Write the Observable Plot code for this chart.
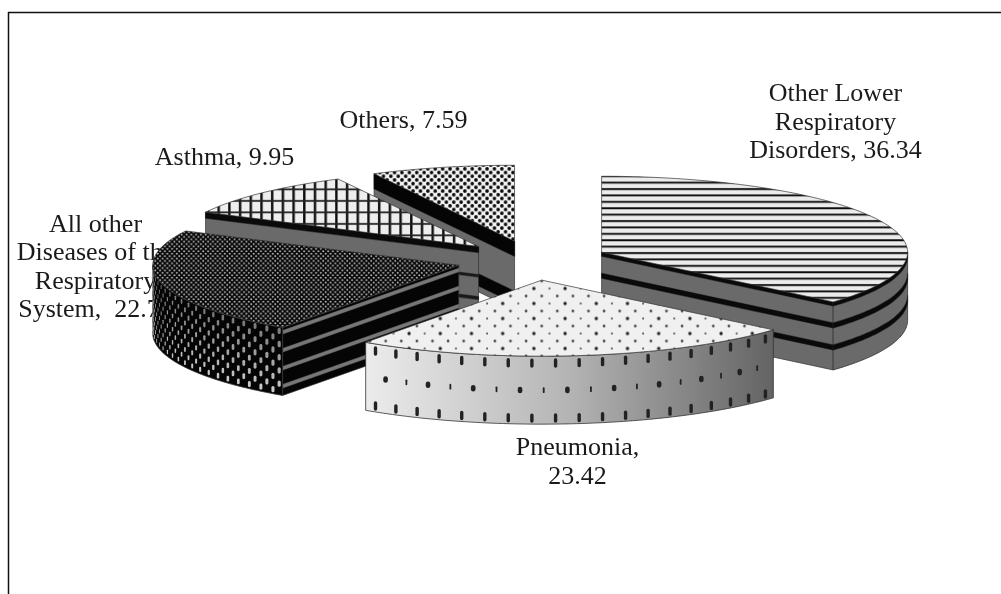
<!DOCTYPE html>
<html><head><meta charset="utf-8">
<script src="https://cdn.jsdelivr.net/npm/d3@7"></script>
<script src="https://cdn.jsdelivr.net/npm/@observablehq/plot@0.6"></script>
<style>html,body{margin:0;padding:0;background:#fff}svg{display:block;filter:blur(.35px)}</style>
</head><body><div id="chart"></div>
<script>
const categories = ["Other Lower\nRespiratory\nDisorders","Pneumonia","All other\nDiseases of the\nRespiratory\nSystem","Asthma","Others"];
const separators = [", ",",\n",",\u00a0 ",", ",", "];
const values = [36.34,23.42,22.70,9.95,7.59];
const labelX = [835,577,95,224,403];
const labelY = [120,460,265,155,118];

// pie geometry
const cx=532, cy=260, rx=306, ry=76, explodeX=76, explodeY=19.8, depth=68;
const rad=d=>d*Math.PI/180;
let acc=0;
const slices = values.map((v,i)=>{
  const a0=acc*3.6; acc+=v; const a1=acc*3.6; const m=rad((a0+a1)/2);
  return {i,a0,a1,ax:cx+explodeX*Math.sin(m),ay:cy-explodeY*Math.cos(m)};
});
const pt=(s,a,d=0)=>[s.ax+rx*Math.sin(rad(a)),s.ay-ry*Math.cos(rad(a))+d];
const arc=(s,a,b,d=0)=>{const n=Math.max(2,Math.ceil(Math.abs(b-a)));return d3.range(n+1).map(k=>pt(s,a+(b-a)*k/n,d));};
const X=d=>d[0],Y=d=>d[1];
const poly=(p,o)=>Plot.line([...p,p[0]],{x:X,y:Y,...o});
const edge="#333";

const defs=()=>{const g=d3.create("svg:defs");g.html(`
<pattern id="pLines" patternUnits="userSpaceOnUse" width="8" height="6.4"><rect width="8" height="6.4" fill="#ececec"/><rect y="2" width="8" height="1.9" fill="#0c0c0c"/></pattern>
<pattern id="pSpots" patternUnits="userSpaceOnUse" width="31.2" height="15"><rect width="31.2" height="15" fill="#f0f0f0"/><circle cx="3" cy="3" r="1.7" fill="#222"/><circle cx="18.6" cy="3" r="1" fill="#444"/><circle cx="10.8" cy="10.5" r="1.3" fill="#333"/><circle cx="26.4" cy="10.5" r="1.3" fill="#333"/></pattern>
<pattern id="pDense" patternUnits="userSpaceOnUse" width="4.8" height="4.8"><rect width="4.8" height="4.8" fill="#050505"/><circle cx="1.2" cy="1.2" r="1" fill="#bbb"/><circle cx="3.6" cy="3.6" r="1" fill="#bbb"/></pattern>
<pattern id="pGrid" patternUnits="userSpaceOnUse" width="10.7" height="11.5"><rect width="10.7" height="11.5" fill="#eee"/><rect x="3" width="2.4" height="11.5" fill="#0c0c0c"/><rect y="4" width="10.7" height="1.8" fill="#222"/></pattern>
<pattern id="pDots" patternUnits="userSpaceOnUse" width="7.4" height="7.4"><rect width="7.4" height="7.4" fill="#f2f2f2"/><circle cx="1.85" cy="1.85" r="1.8" fill="#0a0a0a"/><circle cx="5.55" cy="5.55" r="1.8" fill="#0a0a0a"/></pattern>
<linearGradient id="gWall" gradientUnits="userSpaceOnUse" x1="365" x2="772" y1="0" y2="0"><stop offset="0" stop-color="#ececec"/><stop offset=".5" stop-color="#b4b4b4"/><stop offset="1" stop-color="#646464"/></linearGradient>
`);return g.node();};

const tops=["url(#pLines)","url(#pSpots)","url(#pDense)","url(#pGrid)","url(#pDots)"];
const walls=["#6a6a6a","url(#gWall)","#050505","#6a6a6a","#6a6a6a"];
// bands along the walls: depth from, depth to, colour
const bands=[
 [[0,4,"#0a0a0a"],[21,26,"#0a0a0a"],[43,48,"#0a0a0a"]],
 [],
 [[3,6.5,"#777"],[21,24.5,"#777"],[39,42.5,"#777"],[57,60.5,"#777"]],
 [[0,6,"#0a0a0a"],[28,30.5,"#1a1a1a"],[50,53,"#1a1a1a"]],
 [[0,15,"#050505"],[50,62,"#050505"]]
];
const bandMarks=(line,i)=>bands[i].map(([f,t,c])=>poly([...line(f),...line(t).reverse()],{fill:c,stroke:c,strokeOpacity:.45,strokeWidth:1.2,strokeLinecap:"butt"}));

function sliceMarks(s){
  const m=[]; const i=s.i;
  const topShape=[[s.ax,s.ay],...arc(s,s.a0,s.a1)];
  const cuts=[];
  if(Math.sin(rad(s.a0))<-1e-6) cuts.push(s.a0);
  if(Math.sin(rad(s.a1))>1e-6) cuts.push(s.a1);
  for(const a of cuts){
    const e=pt(s,a);
    m.push(poly([[s.ax,s.ay],e,[e[0],e[1]+depth],[s.ax,s.ay+depth]],{fill:walls[i],stroke:edge,strokeWidth:.7}));
    m.push(...bandMarks(o=>[[s.ax,s.ay+o],[e[0],e[1]+o]],i));
  }
  const b0=Math.max(s.a0,90), b1=Math.min(s.a1,270);
  if(b1>b0){
    m.push(poly([...arc(s,b0,b1),...arc(s,b1,b0,depth)],{fill:walls[i],stroke:edge,strokeWidth:.8}));
    if(i!==2) m.push(...bandMarks(o=>arc(s,b0,b1,o),i));
    if(i===1){
      const step=(b1-b0)/19, marks=[];
      d3.range(19).forEach(k=>{const a=b0+step*(k+.5);
        marks.push({a,d0:4,d1:10,w:3.4},{a,d0:59,d1:65,w:3.4});});
      d3.range(20).forEach(k=>{const a=b0+step*k;
        marks.push(k%2?{a,d0:32,d1:36,w:1.8}:{a,d0:33,d1:35,w:4.6});});
      const q=marks.filter(o=>o.a>b0+.5&&o.a<b1-.3);
      m.push(Plot.link(q,{x1:o=>pt(s,o.a,o.d0)[0],y1:o=>pt(s,o.a,o.d0)[1],x2:o=>pt(s,o.a,o.d1)[0],y2:o=>pt(s,o.a,o.d1)[1],stroke:"#222",strokeWidth:o=>o.w,strokeLinecap:"round"}));
    }
    if(i===2){
      const step=2.9, holes=[];
      d3.range(10).forEach(r=>{
        for(let a=b0+(r%2?step/2:0)+.8;a<b1;a+=step) holes.push({a,d:4+r*6.6,r});
      });
      m.push(Plot.link(holes,{x1:o=>pt(s,o.a,o.d-1.6)[0],y1:o=>pt(s,o.a,o.d-1.6)[1],x2:o=>pt(s,o.a,o.d+1.6)[0],y2:o=>pt(s,o.a,o.d+1.6)[1],
        stroke:"#ddd",strokeOpacity:o=>.55+.04*o.r,strokeWidth:o=>Math.max(.8,3.9*Math.abs(Math.cos(rad(o.a)))),strokeLinecap:"round"}));
    }
  }
  m.push(poly(topShape,{fill:tops[i],stroke:edge,strokeWidth:.7}));
  return m;
}

const labels=categories.map((c,i)=>({t:`${c}${separators[i]}${values[i].toFixed(2)}`,x:labelX[i],y:labelY[i]}));
const order=[4,3,0,2,1];

const chart=Plot.plot({
  width:1001,height:594,margin:0,
  x:{domain:[0,1001],range:[0,1001],axis:null},
  y:{domain:[0,594],range:[0,594],axis:null},
  style:{background:"#fff"},
  marks:[
    defs,
    Plot.text(labels,{x:"x",y:"y",text:"t",fontFamily:"Liberation Serif",fontSize:26,lineHeight:1.09,textAnchor:"middle",fill:"#1a1a1a"}),
    ...order.flatMap(i=>sliceMarks(slices[i])),
    Plot.ruleY([12],{x1:8,x2:1001,stroke:"#111",strokeWidth:1.5}),
    Plot.ruleX([8],{y1:12,y2:594,stroke:"#111",strokeWidth:1.5})
  ]
});
document.getElementById("chart").append(chart);
</script></body></html>
